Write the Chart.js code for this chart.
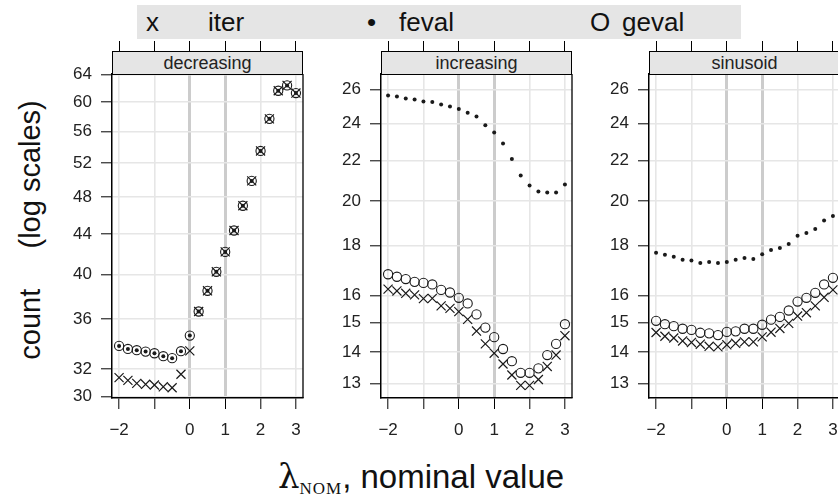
<!DOCTYPE html>
<html><head><meta charset="utf-8">
<script src="https://cdn.jsdelivr.net/npm/chart.js@4.4.0/dist/chart.umd.min.js"></script>
<style>
html,body{margin:0;padding:0;background:#fff;}
body{width:838px;height:501px;overflow:hidden;position:relative;font-family:"Liberation Sans",Arial,Helvetica,sans-serif;color:#222;}
.cv{position:absolute;top:0;}
.strip{position:absolute;top:51px;height:24px;width:191px;box-sizing:border-box;background:#e5e5e5;border:1px solid #000;text-align:center;font-size:18px;line-height:22px;color:#222;}
#legend{position:absolute;left:137px;top:5px;width:604px;height:34px;background:#e5e5e5;}
#legend span{position:absolute;top:0;line-height:34px;font-size:26px;color:#111;white-space:nowrap;}
#ytitle{position:absolute;left:-120px;top:214px;width:300px;height:32px;line-height:32px;text-align:center;font-size:29px;transform:rotate(-90deg);white-space:pre;color:#111;}
#xtitle{position:absolute;left:0;top:454px;width:842px;height:44px;line-height:44px;text-align:center;font-size:33px;color:#111;white-space:nowrap;}
#xtitle .lam{font-family:"DejaVu Serif","Liberation Serif",serif;font-size:34px;}
#xtitle .nom{font-family:"Liberation Serif","DejaVu Serif",serif;font-size:17px;position:relative;top:6px;letter-spacing:1px;}
</style></head>
<body>
<div id="legend">
  <span style="left:9px">x</span>
  <span style="left:71px">iter</span>
  <span style="left:230px">•</span>
  <span style="left:262px">feval</span>
  <span style="left:453px">O</span>
  <span style="left:485px">geval</span>
</div>
<div id="ytitle">count     (log scales)</div>
<div id="xtitle"><span class="lam">λ</span><span class="nom">NOM</span>, nominal value</div>
<script>
// ---- data ----
const panelNames = ['decreasing', 'increasing', 'sinusoid'];
const xVals = [-2, -1.75, -1.5, -1.25, -1, -0.75, -0.5, -0.25, 0, 0.25, 0.5, 0.75, 1, 1.25, 1.5, 1.75, 2, 2.25, 2.5, 2.75, 3];
const xTicks = [-2, -1, 0, 1, 2, 3];
const xTickLabels = ['\u22122', '', '0', '1', '2', '3'];

const decIter  = [31.37, 31.17, 30.95, 30.88, 30.83, 30.70, 30.63, 31.62, 33.41, 36.65, 38.48, 40.24, 42.17, 44.35, 47.01, 49.84, 53.48, 57.68, 61.62, 62.40, 61.29];
const decFeval = [33.80, 33.56, 33.46, 33.35, 33.22, 32.99, 32.84, 33.38, 34.63, 36.65, 38.48, 40.24, 42.17, 44.35, 47.01, 49.84, 53.48, 57.68, 61.62, 62.40, 61.29];
const decGeval = [33.80, 33.56, 33.46, 33.35, 33.22, 32.99, 32.84, 33.38, 34.63, 36.65, 38.48, 40.24, 42.17, 44.35, 47.01, 49.84, 53.48, 57.68, 61.62, 62.40, 61.29];

const incIter  = [16.24, 16.17, 16.08, 16.02, 15.88, 15.89, 15.61, 15.52, 15.40, 15.12, 14.71, 14.27, 13.96, 13.61, 13.26, 12.94, 12.94, 13.12, 13.53, 13.90, 14.55];
const incFeval = [25.65, 25.59, 25.47, 25.41, 25.29, 25.25, 25.11, 24.99, 24.84, 24.62, 24.41, 23.90, 23.50, 22.90, 22.07, 21.23, 20.74, 20.45, 20.40, 20.40, 20.79];
const incGeval = [16.82, 16.72, 16.63, 16.52, 16.48, 16.42, 16.21, 16.11, 15.91, 15.70, 15.30, 14.83, 14.50, 14.10, 13.70, 13.33, 13.33, 13.47, 13.90, 14.27, 14.95];

const sinIter  = [14.66, 14.53, 14.47, 14.37, 14.32, 14.26, 14.19, 14.17, 14.24, 14.29, 14.34, 14.34, 14.51, 14.67, 14.80, 14.98, 15.24, 15.36, 15.61, 15.93, 16.21];
const sinFeval = [17.70, 17.61, 17.53, 17.41, 17.37, 17.27, 17.31, 17.27, 17.31, 17.41, 17.48, 17.44, 17.63, 17.81, 17.89, 18.06, 18.42, 18.54, 18.71, 19.09, 19.30];
const sinGeval = [15.07, 14.95, 14.88, 14.79, 14.75, 14.65, 14.63, 14.57, 14.68, 14.70, 14.79, 14.79, 14.93, 15.11, 15.21, 15.44, 15.77, 15.91, 16.10, 16.42, 16.68];

const yTicksDec = [30, 32, 36, 40, 44, 48, 52, 56, 60, 64];
const yTicksIS  = [13, 14, 15, 16, 18, 20, 22, 24, 26];

// ---- layout ----
const panelLefts = [112, 381, 649];
const AXW = 100, TOPH = 74, BOTH = 60, PW = 191, PH = 324, PADR = 12;

const frame = {
  id: 'frame',
  beforeDatasetsDraw(chart) {
    const a = chart.chartArea, ctx = chart.ctx;
    ctx.save();
    ctx.strokeStyle = '#000'; ctx.lineWidth = 1.3;
    ctx.beginPath(); ctx.moveTo(a.right, a.top); ctx.lineTo(a.right, a.bottom); ctx.stroke();
    ctx.restore();
  }
};

function pts(ys) { return xVals.map((x, i) => ({ x: x, y: ys[i] })); }

function makePanel(i, iter, feval, geval, yTicks, yMin, yMax) {
  const div = document.createElement('div');
  div.className = 'cv';
  div.style.left = (panelLefts[i] - AXW) + 'px';
  const cv = document.createElement('canvas');
  cv.width = AXW + PW + PADR; cv.height = TOPH + PH + BOTH;
  cv.style.width = cv.width + 'px'; cv.style.height = cv.height + 'px';
  div.appendChild(cv);
  document.body.appendChild(div);

  const strip = document.createElement('div');
  strip.className = 'strip';
  strip.style.left = panelLefts[i] + 'px';
  strip.textContent = panelNames[i];
  document.body.appendChild(strip);

  const setX = s => { s.ticks = xTicks.map(v => ({ value: v })); };
  const gridCol = c => (c.tick && (c.tick.value === 0 || c.tick.value === 1)) ? '#cccccc' : '#e6e6e6';
  const gridW = c => (c.tick && (c.tick.value === 0 || c.tick.value === 1)) ? 3 : 1.6;
  const tickFont = { size: 17, family: '"Liberation Sans", Arial, sans-serif' };

  new Chart(cv, {
    type: 'scatter',
    data: {
      datasets: [
        { label: 'geval', data: pts(geval), pointStyle: 'circle', pointRadius: 4.6, borderColor: '#1a1a1a', backgroundColor: 'rgba(0,0,0,0)', borderWidth: 1.1, order: 3 },
        { label: 'feval', data: pts(feval), pointStyle: 'circle', pointRadius: 2, borderColor: '#1a1a1a', backgroundColor: '#1a1a1a', borderWidth: 0, order: 2 },
        { label: 'iter', data: pts(iter), pointStyle: 'crossRot', pointRadius: 6.4, borderColor: '#1a1a1a', borderWidth: 1.2, order: 1 }
      ]
    },
    options: {
      responsive: false, animation: false, devicePixelRatio: 1, events: [],
      plugins: { legend: { display: false }, tooltip: { enabled: false } },
      layout: { padding: { left: 0, right: PADR, top: 0, bottom: 0 } },
      scales: {
        x: {
          type: 'linear', position: 'bottom', min: -2.2, max: 3.2, bounds: 'data',
          afterBuildTicks: setX,
          afterFit: s => { s.height = BOTH; s.paddingLeft = 0; s.paddingRight = 0; },
          ticks: { autoSkip: false, maxRotation: 0, padding: 11, color: '#222', font: tickFont,
                   callback: v => xTickLabels[xTicks.indexOf(v)] },
          grid: { color: gridCol, lineWidth: gridW, tickColor: '#000', tickLength: 11, tickWidth: 1 },
          border: { display: true, color: '#000', width: 1.5 }
        },
        xTop: {
          type: 'linear', position: 'top', min: -2.2, max: 3.2, bounds: 'data',
          afterBuildTicks: setX,
          afterFit: s => { s.height = TOPH; s.paddingLeft = 0; s.paddingRight = 0; },
          ticks: { display: false },
          grid: { drawOnChartArea: false, tickColor: '#000', tickLength: 33, tickWidth: 1 },
          border: { display: false }
        },
        y: {
          type: 'logarithmic', position: 'left', min: yMin, max: yMax, bounds: 'data',
          afterBuildTicks: s => { s.ticks = yTicks.map(v => ({ value: v })); },
          afterFit: s => { s.width = AXW; s.paddingTop = 0; s.paddingBottom = 0; },
          ticks: { autoSkip: false, padding: 9, color: '#222', font: tickFont,
                   callback: v => String(v) },
          grid: { color: '#e6e6e6', lineWidth: 1.6, tickColor: '#000', tickLength: 11, tickWidth: 1 },
          border: { display: true, color: '#000', width: 1.5 }
        }
      }
    },
    plugins: [frame]
  });
}

makePanel(0, decIter, decFeval, decGeval, yTicksDec, 29.9, 64.1);
makePanel(1, incIter, incFeval, incGeval, yTicksIS, 12.56, 26.98);
makePanel(2, sinIter, sinFeval, sinGeval, yTicksIS, 12.56, 26.98);
</script>
</body></html>
